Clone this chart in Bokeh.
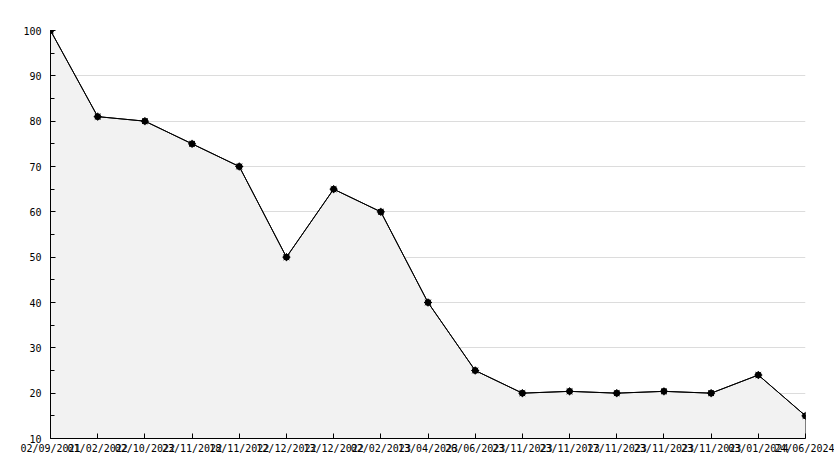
from bokeh.plotting import figure
from bokeh.models import Range1d, FixedTicker
from bokeh.embed import file_html
from bokeh.resources import INLINE

dates = ["02/09/2021", "01/02/2022", "02/10/2022", "23/11/2022", "18/11/2022",
         "12/12/2022", "13/12/2022", "02/02/2023", "13/04/2023", "26/06/2023",
         "23/11/2023", "23/11/2023", "17/11/2023", "23/11/2023", "23/11/2023",
         "03/01/2024", "24/06/2024"]
values = [100, 81, 80, 75, 70, 50, 65, 60, 40, 25, 20, 20.4, 20, 20.4, 20, 24, 15]
y_min, y_max = 10, 100

idx = list(range(len(dates)))
FONT = "DejaVu Sans Mono"

p = figure(width=834, height=468, output_backend="svg", toolbar_location=None,
           x_range=Range1d(0, len(dates) - 1), y_range=Range1d(y_min, y_max),
           min_border_left=50, min_border_right=29, min_border_top=30, min_border_bottom=30)
p.outline_line_color = None
p.background_fill_color = "white"

px = idx + [idx[-1], idx[0]]
py = values + [y_min, y_min]
p.patch(px, py, fill_color="#f2f2f2", line_color="black", line_width=1)
p.line(idx, values, line_color="black", line_width=1)
p.scatter(idx, values, marker="circle", size=6, fill_color="black", line_color="black")
p.scatter(idx, values, marker="asterisk", size=8, line_color="black", line_width=1)

p.xgrid.visible = False
p.ygrid.grid_line_color = "#dcdcdc"
p.ygrid.grid_line_width = 1

p.xaxis.ticker = FixedTicker(ticks=idx)
p.xaxis.major_label_overrides = {i: d for i, d in enumerate(dates)}
p.yaxis.ticker = FixedTicker(ticks=list(range(10, 101, 10)), minor_ticks=list(range(15, 100, 10)))

for ax in (p.xaxis, p.yaxis):
    ax.axis_line_color = "black"
    ax.major_tick_line_color = "black"
    ax.minor_tick_line_color = "black"
    ax.major_tick_in = 5
    ax.major_tick_out = 0
    ax.minor_tick_in = 4
    ax.minor_tick_out = 0
    ax.major_label_text_font = FONT
    ax.major_label_text_font_size = "10px"
    ax.major_label_text_color = "black"
p.xaxis.minor_tick_line_color = None
p.xaxis.major_label_standoff = 4
p.yaxis.major_label_standoff = 9

open("out.html", "w").write(file_html(p, INLINE))
